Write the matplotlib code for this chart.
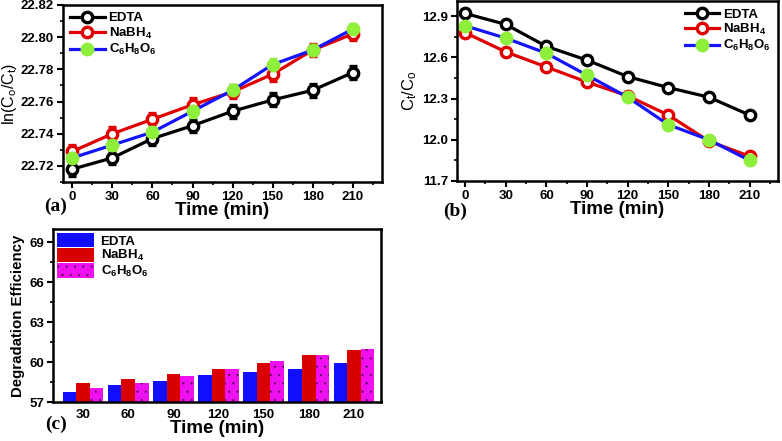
import matplotlib
matplotlib.use("Agg")
import matplotlib.pyplot as plt
import numpy as np
from matplotlib.ticker import MultipleLocator, FormatStrFormatter
from matplotlib.patches import Patch
from matplotlib.lines import Line2D

plt.rcParams['font.family'] = ['Liberation Sans', 'DejaVu Sans']
plt.rcParams['mathtext.fontset'] = 'custom'
plt.rcParams['mathtext.rm'] = 'Liberation Sans:bold'
plt.rcParams['mathtext.it'] = 'Liberation Sans:bold'
plt.rcParams['mathtext.bf'] = 'Liberation Sans:bold'
plt.rcParams['hatch.linewidth'] = 0.25

# ---------------- data ----------------
time = [0, 30, 60, 90, 120, 150, 180, 210]
series = ['EDTA', 'NaBH$_4$', 'C$_6$H$_8$O$_6$']

ln_edta = [22.718, 22.725, 22.737, 22.745, 22.754, 22.761, 22.767, 22.778]
ln_nabh4 = [22.729, 22.740, 22.749, 22.758, 22.766, 22.777, 22.792, 22.802]
ln_vitc = [22.725, 22.733, 22.741, 22.754, 22.767, 22.783, 22.792, 22.805]
ln_err = [0.004, 0.004, 0.004, 0.004, 0.004, 0.004, 0.004, 0.004]

ct_edta = [12.92, 12.84, 12.68, 12.58, 12.46, 12.38, 12.31, 12.18]
ct_nabh4 = [12.78, 12.64, 12.53, 12.42, 12.32, 12.18, 11.99, 11.88]
ct_vitc = [12.83, 12.74, 12.63, 12.47, 12.31, 12.11, 12.00, 11.85]

bar_time = [30, 60, 90, 120, 150, 180, 210]
de_edta = [57.75, 58.25, 58.6, 59.0, 59.25, 59.5, 59.9]
de_nabh4 = [58.4, 58.75, 59.1, 59.45, 59.9, 60.55, 60.9]
de_vitc = [58.05, 58.4, 58.95, 59.45, 60.1, 60.5, 61.0]

# ---------------- styles ----------------
BLACK = '#000000'
RED = '#e00000'
BLUE = '#1414ff'
GREEN = '#8ef03a'
BAR_BLUE = '#1010ff'
BAR_RED = '#d80000'
BAR_MAG = '#ee10ee'
DOTS = '#4a004a'

fig = plt.figure(figsize=(7.82, 4.41), dpi=100)
axa = fig.add_axes([0.0806, 0.5873, 0.408, 0.4014])
axb = fig.add_axes([0.5844, 0.5896, 0.4105, 0.408])
axc = fig.add_axes([0.0678, 0.0884, 0.4194, 0.3923])


def style_axes(ax):
    for s in ax.spines.values():
        s.set_linewidth(1.8)
    ax.tick_params(which='major', direction='out', length=4, width=1.5, pad=2.5)
    ax.tick_params(which='minor', direction='out', length=2.5, width=1.2)
    for lab in ax.get_xticklabels() + ax.get_yticklabels():
        lab.set_fontweight('bold')
        lab.set_fontsize(9.5)


def legend_handles():
    return [
        Line2D([], [], color=BLACK, lw=2.3, marker='o', ms=7.5, mfc='white', mec=BLACK, mew=2.4),
        Line2D([], [], color=RED, lw=2.3, marker='o', ms=7.5, mfc='white', mec=RED, mew=2.4),
        Line2D([], [], color=BLUE, lw=2.3, marker='o', ms=9, mfc=GREEN, mec=GREEN, mew=1),
    ]


# ---------------- (a) ----------------
axa.errorbar(time, ln_edta, yerr=ln_err, color=BLACK, lw=2.3, marker='o', ms=7.5,
             mfc='white', mec=BLACK, mew=2.4, ecolor=BLACK, elinewidth=1.4,
             capsize=3, capthick=1.4)
axa.errorbar(time, ln_nabh4, yerr=ln_err, color=RED, lw=2.3, marker='o', ms=7.5,
             mfc='white', mec=RED, mew=2.4, ecolor=RED, elinewidth=1.4,
             capsize=3, capthick=1.4)
axa.errorbar(time, ln_vitc, yerr=ln_err, color=BLUE, lw=2.3, marker='o', ms=9,
             mfc=GREEN, mec=GREEN, mew=1, ecolor=GREEN, elinewidth=1.4,
             capsize=3, capthick=1.4)
axa.set_xlim(-7, 232)
axa.set_ylim(22.71, 22.82)
axa.set_xticks(time)
axa.xaxis.set_minor_locator(MultipleLocator(15))
axa.yaxis.set_major_locator(MultipleLocator(0.02))
axa.yaxis.set_minor_locator(MultipleLocator(0.01))
axa.yaxis.set_major_formatter(FormatStrFormatter('%.2f'))
axa.set_xlabel('Time (min)', fontsize=13.5, fontweight='bold', labelpad=-1)
axa.set_ylabel('ln(C$_\\mathregular{o}$/C$_\\mathregular{t}$)', fontsize=11.5, labelpad=1)
style_axes(axa)
axa.legend(legend_handles(), series, loc='upper left', frameon=False,
           prop=dict(weight='bold', size=9.5), handlelength=2.6, borderaxespad=0.15,
           labelspacing=0.1, handletextpad=0.3)

# ---------------- (b) ----------------
axb.plot(time, ct_edta, color=BLACK, lw=2.3, marker='o', ms=7.5, mfc='white',
         mec=BLACK, mew=2.4)
axb.plot(time, ct_nabh4, color=RED, lw=2.3, marker='o', ms=7.5, mfc='white',
         mec=RED, mew=2.4)
axb.plot(time, ct_vitc, color=BLUE, lw=2.3, marker='o', ms=9, mfc=GREEN,
         mec=GREEN, mew=1)
axb.set_xlim(-6, 231)
axb.set_ylim(11.7, 13.01)
axb.set_xticks(time)
axb.xaxis.set_minor_locator(MultipleLocator(15))
axb.yaxis.set_major_locator(MultipleLocator(0.3))
axb.yaxis.set_minor_locator(MultipleLocator(0.15))
axb.yaxis.set_major_formatter(FormatStrFormatter('%.1f'))
axb.set_xlabel('Time (min)', fontsize=13.5, fontweight='bold', labelpad=-1)
axb.set_ylabel('C$_\\mathregular{t}$/C$_\\mathregular{o}$', fontsize=12, labelpad=2)
style_axes(axb)
axb.legend(legend_handles(), series, loc='upper right', frameon=False,
           prop=dict(weight='bold', size=9.5), handlelength=2.6, borderaxespad=0.15,
           labelspacing=0.1, handletextpad=0.3)

# ---------------- (c) ----------------
bw = 9
x = np.array(bar_time, dtype=float)
axc.bar(x - bw, np.array(de_edta) - 57, bw, bottom=57, color=BAR_BLUE, linewidth=0)
axc.bar(x, np.array(de_nabh4) - 57, bw, bottom=57, color=BAR_RED, linewidth=0)
axc.bar(x + bw, np.array(de_vitc) - 57, bw, bottom=57, facecolor=BAR_MAG,
        edgecolor=DOTS, linewidth=0, hatch='..')
axc.set_xlim(10, 228)
axc.set_ylim(57, 70)
axc.set_xticks(bar_time)
axc.yaxis.set_major_locator(MultipleLocator(3))
axc.yaxis.set_minor_locator(MultipleLocator(1.5))
axc.set_xlabel('Time (min)', fontsize=13.5, fontweight='bold', labelpad=-1)
axc.set_ylabel('Degradation Efficiency', fontsize=10.8, fontweight='bold', labelpad=3)
style_axes(axc)
axc.tick_params(axis='x', which='both', length=0, pad=5)
handles = [Patch(facecolor=BAR_BLUE, linewidth=0),
           Patch(facecolor=BAR_RED, linewidth=0),
           Patch(facecolor=BAR_MAG, edgecolor=DOTS, linewidth=0, hatch='..')]
axc.legend(handles, series, loc='upper left', frameon=False,
           prop=dict(weight='bold', size=9.5), handlelength=2.8, handleheight=1.3,
           labelspacing=0.0, borderaxespad=0.1, borderpad=0.2, handletextpad=0.5)

# panel labels
lab = dict(family=['Liberation Serif', 'DejaVu Serif'], fontweight='bold', fontsize=14,
           ha='center', va='center')
fig.text(0.071, 0.533, '(a)', **lab)
fig.text(0.582, 0.520, '(b)', **lab)
fig.text(0.0716, 0.037, '(c)', **lab)

fig.savefig('out.png', dpi=100)
